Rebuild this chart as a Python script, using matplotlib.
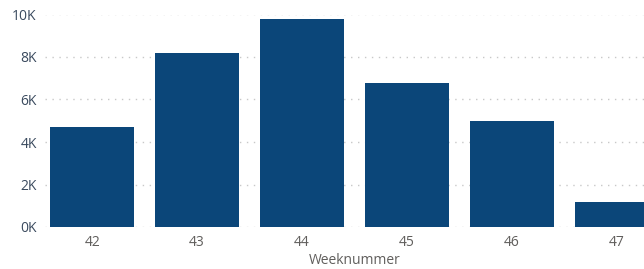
import matplotlib
matplotlib.use("Agg")
import matplotlib.pyplot as plt
from matplotlib.ticker import FuncFormatter

weeks = [42, 43, 44, 45, 46, 47]
values = [4690, 8170, 9810, 6760, 4980, 1170]
yticks = [0, 2000, 4000, 6000, 8000, 10000]

plt.rcParams['font.family'] = ['Open Sans', 'DejaVu Sans']

fig = plt.figure(figsize=(6.44, 2.69), dpi=100)
ax = fig.add_axes([45/644, 1-227/269, 620/644, (227-14.5)/269])
ax.bar(weeks, values, width=0.8, color='#0B4679', zorder=2)
ax.set_xlim(41.55, 47.46)
ax.set_ylim(0, 10000)
ax.set_yticks(yticks)
ax.yaxis.set_major_formatter(FuncFormatter(lambda v, p: f"{int(v/1000)}K"))
ax.set_xticks(weeks)
ax.grid(axis='y', linestyle=(0, (1, 4)), color='#C8C8C8', linewidth=1, zorder=0)
for s in ax.spines.values():
    s.set_visible(False)
ax.tick_params(axis='both', length=0)
ax.tick_params(axis='y', labelsize=10, labelcolor='#3A4A5E', pad=6)
ax.tick_params(axis='x', labelsize=10, labelcolor='#605E5C', pad=6)
ax.set_xlabel('Weeknummer', fontsize=10, color='#605E5C', labelpad=2)
fig.savefig('out.png', dpi=100, facecolor='white')
